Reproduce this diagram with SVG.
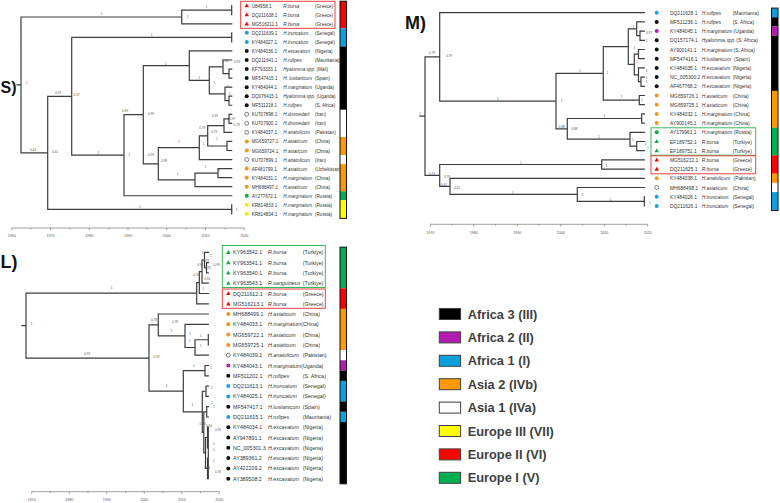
<svg xmlns="http://www.w3.org/2000/svg" xmlns:xlink="http://www.w3.org/1999/xlink" width="780" height="503" viewBox="0 0 780 503">
<style>
.br{fill:none;stroke:#3d3d3d;stroke-width:1.2;stroke-linecap:square}
.ax{fill:none;stroke:#777;stroke-width:0.7}
.tk{font-family:"Liberation Sans",Arial,sans-serif;font-size:3.6px;fill:#555;text-anchor:middle}
.sp{font-family:"Liberation Sans",Arial,sans-serif;font-size:3.2px;fill:#555;text-anchor:middle;dominant-baseline:central}
.ts,.tm,.tl{font-family:"Liberation Sans",Arial,sans-serif;fill:#333;dominant-baseline:central}
.ts{font-size:4.6px}.tm{font-size:4.9px}.tl{font-size:5.3px}
.i{font-style:italic}
.big{font-family:"Liberation Sans",Arial,sans-serif;font-weight:bold;font-size:18px;fill:#111}
.lg{font-family:"Liberation Sans",Arial,sans-serif;font-weight:bold;font-size:12.8px;fill:#404040}
.sw{stroke:#404040;stroke-width:1}
.cR{fill:#ff0000}.cB{fill:#1ba1e2}.cK{fill:#111}.cO{fill:#f7941d}.cG{fill:#12a54a}.cY{fill:#f5ec00}.cP{fill:#b11fb1}.cW{fill:#fff;stroke:#333;stroke-width:0.6}
.bx{fill:none;stroke-width:1}
.bar{stroke:none}
.bo{fill:none;stroke:#111;stroke-width:1}
</style>
<defs>
<path id="tri" d="M0,-2.3L2.2,1.6H-2.2Z"/>
<circle id="dot" r="2"/>
</defs>
<rect width="780" height="503" fill="#fff"/>

<text class="big" x="0.5" y="93" style="font-size:16px">S)</text>
<text class="big" x="405" y="29">M)</text>
<text class="big" x="0.5" y="268">L)</text>

<g id="connectors">
<path class="br" d="M17,84.9H21 M21,17V152.8 M21,17H181.7 M21,152.8H47.7 M181.7,10.2V23.8 M181.7,10.2H231.7 M181.7,23.8H231.7 M231.7,5.7V14.75 M47.7,96.3V209.3 M47.7,96.3H71.7 M47.7,209.3H231.7 M231.7,204.8V213.85 M71.7,37.4V155.2 M71.7,37.4H231.7 M231.7,32.85V41.9 M71.7,155.2H124 M124,114.7V195.75 M124,114.7H143.3 M124,195.75H231.7 M143.3,65.65V163.8 M143.3,65.65H189.3 M143.3,163.8H158.3 M189.3,50.95V80.35 M189.3,50.95H231.7 M189.3,80.35H209.3 M209.3,66.8V93.9 M209.3,66.8H223 M209.3,93.9H225 M223,60V73.6 M223,60H231.7 M223,73.6H229 M229,69.05V78.1 M229,69.05H231.7 M229,78.1H231.7 M225,87.15V100.7 M225,87.15H231.7 M225,100.7H229 M229,96.2V105.25 M229,96.2H231.7 M229,105.25H231.7 M158.3,147.7V179.9 M158.3,147.7H199.3 M158.3,179.9H195 M199.3,135.8V159.55 M199.3,135.8H207.7 M199.3,159.55H231.7 M207.7,125.6V145.98 M207.7,125.6H224 M207.7,145.98H227 M224,118.8V132.4 M224,118.8H229 M224,132.4H231.7 M229,114.3V123.35 M229,114.3H231.7 M229,123.35H231.7 M227,141.45V150.5 M227,141.45H231.7 M227,150.5H231.7 M195,173.1V186.7 M195,173.1H218 M195,186.7H231.7 M218,168.6V177.65 M218,168.6H231.7 M218,177.65H231.7"/>
<path class="br" d="M420,116.15H425 M425,56.9V175.4 M425,56.9H439.7 M425,175.4H439.7 M439.7,12.7V101.1 M439.7,12.7H644.3 M439.7,101.1H556 M556,73.35V128.85 M556,73.35H603.3 M556,128.85H567.3 M603.3,46.6V100.1 M603.3,46.6H628.3 M603.3,100.1H639.3 M639.3,95.5V104.7 M639.3,95.5H644.3 M639.3,104.7H644.3 M628.3,28.8V64.45 M628.3,28.8H636.7 M628.3,64.45H634.3 M636.7,21.9V35.7 M636.7,21.9H644.3 M636.7,35.7H640 M640,31.1V40.3 M640,31.1H644.3 M640,40.3H644.3 M634.3,54.1V74.8 M634.3,54.1H638.5 M634.3,74.8H638.5 M638.5,49.5V58.7 M638.5,49.5H644.3 M638.5,58.7H644.3 M638.5,67.9V81.7 M638.5,67.9H644.3 M638.5,81.7H641 M641,77.1V86.3 M641,77.1H644.3 M641,86.3H644.3 M567.3,118.5V139.2 M567.3,118.5H641.7 M567.3,139.2H630 M641.7,113.9V123.1 M641.7,113.9H644.3 M641.7,123.1H644.3 M630,132.3V146.1 M630,132.3H644.3 M630,146.1H636.7 M636.7,141.5V150.7 M636.7,141.5H644.3 M636.7,150.7H644.3 M439.7,164.5V186.35 M439.7,164.5H601.7 M439.7,186.35H450 M601.7,159.9V169.1 M601.7,159.9H644.3 M601.7,169.1H644.3 M450,178.3V194.4 M450,178.3H644.3 M450,194.4H577.3 M577.3,187.5V201.3 M577.3,187.5H644.3 M577.3,201.3H644.3 M644.3,196.7V205.9"/>
<path class="br" d="M22,325.65H26 M26,293.2V358.1 M26,293.2H196.7 M26,358.1H149 M196.7,282.55V303.8 M196.7,282.55H199.3 M196.7,303.8H208.3 M199.3,271.6V293.5 M199.3,271.6H202 M199.3,293.5H208.3 M202,260V283.2 M202,260H204.5 M202,283.2H208.3 M204.5,252.3V267.75 M204.5,252.3H208.3 M204.5,267.75H206.5 M206.5,262.6V272.9 M206.5,262.6H208.3 M206.5,272.9H208.3 M149,324.95V391.2 M149,324.95H158.3 M149,391.2H183.3 M158.3,314V335.9 M158.3,314H208.3 M158.3,335.9H185 M185,324.3V347.5 M185,324.3H208.3 M185,347.5H195 M195,339.75V355.2 M195,339.75H208.3 M195,355.2H208.3 M208.3,334.6V344.9 M183.3,370.65V411.8 M183.3,370.65H205 M183.3,411.8H202.3 M205,365.5V375.8 M205,365.5H208.3 M205,375.8H208.3 M202.3,391.25V432.4 M202.3,391.25H206 M202.3,432.4H203.8 M206,386.1V396.4 M206,386.1H208.3 M206,396.4H208.3 M203.8,411.85V452.95 M203.8,411.85H206.7 M203.8,452.95H205.5 M206.7,406.7V417 M206.7,406.7H208.3 M206.7,417H208.3 M205.5,437.5V468.4 M205.5,437.5H207.5 M205.5,468.4H207.5 M207.5,427.2V447.8 M207.5,458.1V478.7 M208.3,427.2V478.7"/>
</g>

<g id="support-S">
<text class="sp" x="101.7" y="14">1</text><text class="sp" x="187.7" y="17">1</text><text class="sp" x="206.7" y="7">1</text>
<text class="sp" x="26.7" y="82.5">1</text><text class="sp" x="58.3" y="92.5">0.57</text><text class="sp" x="76.7" y="94.5">0.57</text>
<text class="sp" x="33" y="150">0.41</text><text class="sp" x="55" y="152">0.41</text><text class="sp" x="151.7" y="34.5">1</text>
<text class="sp" x="98.3" y="152.5">1</text><text class="sp" x="125" y="111">0.99</text><text class="sp" x="151" y="114">0.99</text>
<text class="sp" x="129.3" y="155">1</text><text class="sp" x="165.7" y="63.5">1</text><text class="sp" x="199.3" y="78">1</text>
<text class="sp" x="214.3" y="82.5">1</text><text class="sp" x="225.3" y="61">0.98</text><text class="sp" x="237.3" y="62.3">0.99</text>
<text class="sp" x="227.7" y="87">1</text><text class="sp" x="230" y="94">1</text><text class="sp" x="151" y="155">0.99</text>
<text class="sp" x="164" y="160.7">0.99</text><text class="sp" x="179" y="141.7">1</text><text class="sp" x="202.3" y="128.3">0.79</text>
<text class="sp" x="214.3" y="131.7">0.79</text><text class="sp" x="203.7" y="144.3">1</text><text class="sp" x="217" y="139">1</text>
<text class="sp" x="215" y="116">0.99</text><text class="sp" x="232.3" y="119">0.97</text><text class="sp" x="236.7" y="125">0.79</text>
<text class="sp" x="177.7" y="174.3">1</text><text class="sp" x="205.7" y="167">1</text><text class="sp" x="219.3" y="170">1</text>
<text class="sp" x="140" y="206.5">1</text><text class="sp" x="236.7" y="209.5">1</text>
</g>
<g id="support-M">
<text class="sp" x="432" y="53">0.79</text><text class="sp" x="449" y="56">0.79</text><text class="sp" x="420" y="114">1</text>
<text class="sp" x="432" y="173.5">0.79</text><text class="sp" x="447" y="177">0.79</text><text class="sp" x="444" y="185">0.41</text>
<text class="sp" x="457" y="188.3">0.41</text><text class="sp" x="498" y="98.5">1</text><text class="sp" x="561.7" y="101">1</text>
<text class="sp" x="580" y="71">1</text><text class="sp" x="607.3" y="72.7">1</text><text class="sp" x="621.7" y="97.3">1</text>
<text class="sp" x="604.3" y="116">1</text><text class="sp" x="599" y="136.7">1</text><text class="sp" x="561.7" y="127">0.88</text>
<text class="sp" x="574.3" y="129">0.88</text><text class="sp" x="633" y="140">1</text><text class="sp" x="646" y="144">1</text>
<text class="sp" x="648" y="148">1</text><text class="sp" x="521" y="162.7">1</text><text class="sp" x="606.7" y="165.7">1</text>
<text class="sp" x="513" y="193.3">1</text><text class="sp" x="582.3" y="195">1</text><text class="sp" x="610.7" y="200">1</text>
<text class="sp" x="650" y="203.3">1</text><text class="sp" x="633.3" y="26.7">1</text><text class="sp" x="649" y="33">0.97</text>
<text class="sp" x="646.7" y="40.7">1</text><text class="sp" x="634.3" y="48.3">1</text><text class="sp" x="637" y="62">1</text>
<text class="sp" x="646.7" y="71">1</text><text class="sp" x="646.7" y="78">1</text><text class="sp" x="646.7" y="81.7">1</text>
<text class="sp" x="642" y="100">1</text>
</g>
<g id="support-L">
<text class="sp" x="111.7" y="288">1</text><text class="sp" x="31.7" y="324">1</text><text class="sp" x="87.3" y="354">0.97</text>
<text class="sp" x="156.7" y="357">0.97</text><text class="sp" x="154" y="319.5">0.78</text><text class="sp" x="175" y="322">0.78</text>
<text class="sp" x="171.7" y="331">1</text><text class="sp" x="190" y="333.5">1</text><text class="sp" x="201" y="335.5">1</text>
<text class="sp" x="190" y="341">1</text><text class="sp" x="201" y="346">1</text><text class="sp" x="194" y="365.5">1</text>
<text class="sp" x="211" y="368">1</text><text class="sp" x="166.7" y="386">1</text><text class="sp" x="192.3" y="405">1</text>
<text class="sp" x="212" y="388">1</text><text class="sp" x="212" y="403">1</text><text class="sp" x="214" y="407">1</text>
<text class="sp" x="202.7" y="424">0.94</text><text class="sp" x="209" y="425.5">0.94</text><text class="sp" x="218" y="430">0.99</text>
<text class="sp" x="205.7" y="442">1</text><text class="sp" x="214" y="444">1</text><text class="sp" x="214" y="450">1</text>
<text class="sp" x="214" y="461">1</text><text class="sp" x="207.3" y="468">0.76</text><text class="sp" x="218" y="472">0.76</text>
<text class="sp" x="202.7" y="253">1</text><text class="sp" x="211" y="256">1</text><text class="sp" x="206" y="261">0.93</text>
<text class="sp" x="200" y="265">0.94</text><text class="sp" x="216.7" y="265">0.99</text><text class="sp" x="208" y="268">0.95</text>
<text class="sp" x="196.7" y="275">0.97</text><text class="sp" x="207.3" y="279">0.90</text><text class="sp" x="203.3" y="289">1</text>
</g>

<g id="axis-S">
<path class="ax" d="M11.7,228H244.3 M11.7,228v2.2 M50.47,228v2.2 M89.23,228v2.2 M128,228v2.2 M166.77,228v2.2 M205.53,228v2.2 M244.3,228v2.2 M31.08,228v1.3 M69.85,228v1.3 M108.62,228v1.3 M147.38,228v1.3 M186.15,228v1.3 M224.92,228v1.3"/>
<text class="tk" x="11.7" y="236.5">1960</text><text class="tk" x="50.47" y="236.5">1970</text><text class="tk" x="89.23" y="236.5">1980</text><text class="tk" x="128" y="236.5">1990</text><text class="tk" x="166.77" y="236.5">2000</text><text class="tk" x="205.53" y="236.5">2010</text><text class="tk" x="244.3" y="236.5">2020</text>
</g>
<g id="axis-M">
<path class="ax" d="M430.3,224.3H647.7 M430.3,224.3v2.2 M473.78,224.3v2.2 M517.26,224.3v2.2 M560.74,224.3v2.2 M604.22,224.3v2.2 M647.7,224.3v2.2 M452.04,224.3v1.3 M495.52,224.3v1.3 M539,224.3v1.3 M582.48,224.3v1.3 M625.96,224.3v1.3"/>
<text class="tk" x="430.3" y="233.5">1970</text><text class="tk" x="473.78" y="233.5">1980</text><text class="tk" x="517.26" y="233.5">1990</text><text class="tk" x="560.74" y="233.5">2000</text><text class="tk" x="604.22" y="233.5">2010</text><text class="tk" x="647.7" y="233.5">2020</text>
</g>
<g id="axis-L">
<path class="ax" d="M31.7,491.7H219.3 M31.7,491.7v2.2 M69.22,491.7v2.2 M106.74,491.7v2.2 M144.26,491.7v2.2 M181.78,491.7v2.2 M219.3,491.7v2.2 M50.46,491.7v1.3 M87.98,491.7v1.3 M125.5,491.7v1.3 M163.02,491.7v1.3 M200.54,491.7v1.3"/>
<text class="tk" x="31.7" y="500.5">1970</text><text class="tk" x="69.22" y="500.5">1980</text><text class="tk" x="106.74" y="500.5">1990</text><text class="tk" x="144.26" y="500.5">2000</text><text class="tk" x="181.78" y="500.5">2010</text><text class="tk" x="219.3" y="500.5">2020</text>
</g>

<!-- S taxa -->
<rect class="bx" x="240.7" y="1.3" width="94.3" height="27" stroke="#e8403f"/>
<g id="s0"><use href="#tri" x="246.7" y="5.7" class="cR"/><text class="ts" y="5.7"><tspan x="251.7">U84958.1</tspan><tspan x="283.3" class="i">R.bursa</tspan><tspan x="315">(Greece)</tspan></text></g>
<g id="s1"><use href="#tri" x="246.7" y="14.75" class="cR"/><text class="ts" y="14.75"><tspan x="251.7">DQ211638.1</tspan><tspan x="283.3" class="i">R.bursa</tspan><tspan x="315">(Greece)</tspan></text></g>
<g id="s2"><use href="#tri" x="246.7" y="23.8" class="cR"/><text class="ts" y="23.8"><tspan x="251.7">MG516211.1</tspan><tspan x="283.3" class="i">R.bursa</tspan><tspan x="315">(Greece)</tspan></text></g>
<g id="s3"><use href="#dot" x="246.7" y="32.85" class="cB"/><text class="ts" y="32.85"><tspan x="251.7">DQ211639.1</tspan><tspan x="283.3" class="i">H.truncatum</tspan><tspan x="315">(Senegal)</tspan></text></g>
<g id="s4"><use href="#dot" x="246.7" y="41.9" class="cB"/><text class="ts" y="41.9"><tspan x="251.7">KY484027.1</tspan><tspan x="283.3" class="i">H.truncatum</tspan><tspan x="315">(Senegal)</tspan></text></g>
<g id="s5"><use href="#dot" x="246.7" y="50.95" class="cK"/><text class="ts" y="50.95"><tspan x="251.7">KY484036.1</tspan><tspan x="283.3" class="i">H.excavatum</tspan><tspan x="315">(Nigeria)</tspan></text></g>
<g id="s6"><use href="#dot" x="246.7" y="60" class="cK"/><text class="ts" y="60"><tspan x="251.7">DQ211641.1</tspan><tspan x="283.3" class="i">H.rufipes</tspan><tspan x="315">(Mauritania)</tspan></text></g>
<g id="s7"><use href="#dot" x="246.7" y="69.05" class="cK"/><text class="ts" y="69.05"><tspan x="251.7">KF793333.1</tspan><tspan x="283.3" class="i">Hyalomma spp.</tspan><tspan x="316.5">(Mali)</tspan></text></g>
<g id="s8"><use href="#dot" x="246.7" y="78.1" class="cK"/><text class="ts" y="78.1"><tspan x="251.7">MF547415.1</tspan><tspan x="283.3" class="i">H. lusitanicum</tspan><tspan x="315">(Spain)</tspan></text></g>
<g id="s9"><use href="#dot" x="246.7" y="87.15" class="cK"/><text class="ts" y="87.15"><tspan x="251.7">KY484044.1</tspan><tspan x="283.3" class="i">H.marginatum</tspan><tspan x="315">(Uganda)</tspan></text></g>
<g id="s10"><use href="#dot" x="246.7" y="96.2" class="cK"/><text class="ts" y="96.2"><tspan x="251.7">DQ076415.1</tspan><tspan x="283.3" class="i">Hyalomma spp.</tspan><tspan x="316.5">(Uganda)</tspan></text></g>
<g id="s11"><use href="#dot" x="246.7" y="105.25" class="cK"/><text class="ts" y="105.25"><tspan x="251.7">MF511218.1</tspan><tspan x="283.3" class="i">H.rufipes</tspan><tspan x="315">(S. Africa)</tspan></text></g>
<g id="s12"><use href="#dot" x="246.7" y="114.3" class="cW"/><text class="ts" y="114.3"><tspan x="251.7">KU707898.1</tspan><tspan x="283.3" class="i">H.dromedarii</tspan><tspan x="315">(Iran)</tspan></text></g>
<g id="s13"><use href="#dot" x="246.7" y="123.35" class="cW"/><text class="ts" y="123.35"><tspan x="251.7">KU707900.1</tspan><tspan x="283.3" class="i">H.dromedarii</tspan><tspan x="315">(Iran)</tspan></text></g>
<g id="s14"><use href="#dot" x="246.7" y="132.4" class="cW"/><text class="ts" y="132.4"><tspan x="251.7">KY484037.1</tspan><tspan x="283.3" class="i">H.anatolicum</tspan><tspan x="315">(Pakistan)</tspan></text></g>
<g id="s15"><use href="#dot" x="246.7" y="141.45" class="cO"/><text class="ts" y="141.45"><tspan x="251.7">MG659727.1</tspan><tspan x="283.3" class="i">H.asiaticum</tspan><tspan x="315">(China)</tspan></text></g>
<g id="s16"><use href="#dot" x="246.7" y="150.5" class="cO"/><text class="ts" y="150.5"><tspan x="251.7">MG659724.1</tspan><tspan x="283.3" class="i">H.asiaticum</tspan><tspan x="315">(China)</tspan></text></g>
<g id="s17"><use href="#dot" x="246.7" y="159.55" class="cW"/><text class="ts" y="159.55"><tspan x="251.7">KU707899.1</tspan><tspan x="283.3" class="i">H.anatolicum</tspan><tspan x="315">(Iran)</tspan></text></g>
<g id="s18"><use href="#dot" x="246.7" y="168.6" class="cO"/><text class="ts" y="168.6"><tspan x="251.7">AF481799.1</tspan><tspan x="283.3" class="i">H.asiaticum</tspan><tspan x="315">(Uzbekistan)</tspan></text></g>
<g id="s19"><use href="#dot" x="246.7" y="177.65" class="cO"/><text class="ts" y="177.65"><tspan x="251.7">KY484031.1</tspan><tspan x="283.3" class="i">H.marginatum</tspan><tspan x="315">(China)</tspan></text></g>
<g id="s20"><use href="#dot" x="246.7" y="186.7" class="cO"/><text class="ts" y="186.7"><tspan x="251.7">MH688497.1</tspan><tspan x="283.3" class="i">H.asiaticum</tspan><tspan x="315">(China)</tspan></text></g>
<g id="s21"><use href="#dot" x="246.7" y="195.75" class="cG"/><text class="ts" y="195.75"><tspan x="251.7">AY277672.1</tspan><tspan x="283.3" class="i">H.marginatum</tspan><tspan x="315">(Russia)</tspan></text></g>
<g id="s22"><use href="#dot" x="246.7" y="204.8" class="cY"/><text class="ts" y="204.8"><tspan x="251.7">KR814833.1</tspan><tspan x="283.3" class="i">H.marginatum</tspan><tspan x="315">(Russia)</tspan></text></g>
<g id="s23"><use href="#dot" x="246.7" y="213.85" class="cY"/><text class="ts" y="213.85"><tspan x="251.7">KR814834.1</tspan><tspan x="283.3" class="i">H.marginatum</tspan><tspan x="315">(Russia)</tspan></text></g>
<g id="bar-S">
<rect class="bar" x="340" y="1.2" width="6.5" height="27.15" fill="#ff0000"/>
<rect class="bar" x="340" y="28.35" width="6.5" height="18.1" fill="#0aa0dc"/>
<rect class="bar" x="340" y="46.45" width="6.5" height="63.35" fill="#000"/>
<rect class="bar" x="340" y="109.8" width="6.5" height="27.15" fill="#fff"/>
<rect class="bar" x="340" y="136.95" width="6.5" height="18.1" fill="#ff9900"/>
<rect class="bar" x="340" y="155.05" width="6.5" height="9.05" fill="#fff"/>
<rect class="bar" x="340" y="164.1" width="6.5" height="27.15" fill="#ff9900"/>
<rect class="bar" x="340" y="191.25" width="6.5" height="9.05" fill="#00b050"/>
<rect class="bar" x="340" y="200.3" width="6.5" height="18.1" fill="#ffff00"/>
<rect class="bo" x="340" y="1.2" width="6.5" height="217.2"/>
</g>

<!-- M taxa -->
<rect class="bx" x="651" y="127.8" width="104.7" height="27.4" stroke="#3cb85c"/>
<rect class="bx" x="651" y="155.8" width="104.7" height="18" stroke="#e8403f"/>
<g id="m0"><use href="#dot" x="656.7" y="12.7" class="cB"/><text class="tm" y="12.7"><tspan x="670">DQ211628.1</tspan><tspan x="701.7" class="i">H.rufipes</tspan><tspan x="732.7">(Mauritania)</tspan></text></g>
<g id="m1"><use href="#dot" x="656.7" y="21.9" class="cK"/><text class="tm" y="21.9"><tspan x="670">MF511236.1</tspan><tspan x="701.7" class="i">H.rufipes</tspan><tspan x="732.7">(S. Africa)</tspan></text></g>
<g id="m2"><use href="#dot" x="656.7" y="31.1" class="cP"/><text class="tm" y="31.1"><tspan x="670">KY484045.1</tspan><tspan x="701.7" class="i">H.marginatum</tspan><tspan x="733.5">(Uganda)</tspan></text></g>
<g id="m3"><use href="#dot" x="656.7" y="40.3" class="cK"/><text class="tm" y="40.3"><tspan x="670">DQ157174.1</tspan><tspan x="701.7" class="i">Hyalomma spp.</tspan><tspan x="736.3">(S. Africa)</tspan></text></g>
<g id="m4"><use href="#dot" x="656.7" y="49.5" class="cK"/><text class="tm" y="49.5"><tspan x="670">AY900141.1</tspan><tspan x="701.7" class="i">H.marginatum</tspan><tspan x="733.5">(S. Africa)</tspan></text></g>
<g id="m5"><use href="#dot" x="656.7" y="58.7" class="cK"/><text class="tm" y="58.7"><tspan x="670">MF547416.1</tspan><tspan x="701.7" class="i">H.lusitanicum</tspan><tspan x="734">(Spain)</tspan></text></g>
<g id="m6"><use href="#dot" x="656.7" y="67.9" class="cK"/><text class="tm" y="67.9"><tspan x="670">KY484035.1</tspan><tspan x="701.7" class="i">H.excavatum</tspan><tspan x="732.7">(Nigeria)</tspan></text></g>
<g id="m7"><use href="#dot" x="656.7" y="77.1" class="cK"/><text class="tm" y="77.1"><tspan x="670">NC_005300.2</tspan><tspan x="701.7" class="i">H.excavatum</tspan><tspan x="732.7">(Nigeria)</tspan></text></g>
<g id="m8"><use href="#dot" x="656.7" y="86.3" class="cK"/><text class="tm" y="86.3"><tspan x="670">AF467768.2</tspan><tspan x="701.7" class="i">H.excavatum</tspan><tspan x="732.7">(Nigeria)</tspan></text></g>
<g id="m9"><use href="#dot" x="656.7" y="95.5" class="cO"/><text class="tm" y="95.5"><tspan x="670">MG659726.1</tspan><tspan x="701.7" class="i">H.asiaticum</tspan><tspan x="732.7">(China)</tspan></text></g>
<g id="m10"><use href="#dot" x="656.7" y="104.7" class="cO"/><text class="tm" y="104.7"><tspan x="670">MG659725.1</tspan><tspan x="701.7" class="i">H.asiaticum</tspan><tspan x="732.7">(China)</tspan></text></g>
<g id="m11"><use href="#dot" x="656.7" y="113.9" class="cO"/><text class="tm" y="113.9"><tspan x="670">KY484032.1</tspan><tspan x="701.7" class="i">H.marginatum</tspan><tspan x="733.5">(China)</tspan></text></g>
<g id="m12"><use href="#dot" x="656.7" y="123.1" class="cO"/><text class="tm" y="123.1"><tspan x="670">AY900145.1</tspan><tspan x="701.7" class="i">H.marginatum</tspan><tspan x="733.5">(China)</tspan></text></g>
<g id="m13"><use href="#dot" x="656.7" y="132.3" class="cG"/><text class="tm" y="132.3"><tspan x="670">AY179961.1</tspan><tspan x="701.7" class="i">H.marginatum</tspan><tspan x="733.5">(Russia)</tspan></text></g>
<g id="m14"><use href="#tri" x="656.7" y="141.5" class="cG"/><text class="tm" y="141.5"><tspan x="670">EF189752.1</tspan><tspan x="701.7" class="i">R.bursa</tspan><tspan x="732.7">(Turkiye)</tspan></text></g>
<g id="m15"><use href="#tri" x="656.7" y="150.7" class="cG"/><text class="tm" y="150.7"><tspan x="670">EF189751.1</tspan><tspan x="701.7" class="i">R.bursa</tspan><tspan x="732.7">(Turkiye)</tspan></text></g>
<g id="m16"><use href="#tri" x="656.7" y="159.9" class="cR"/><text class="tm" y="159.9"><tspan x="670">MG516212.1</tspan><tspan x="701.7" class="i">R.bursa</tspan><tspan x="732.7">(Greece)</tspan></text></g>
<g id="m17"><use href="#tri" x="656.7" y="169.1" class="cR"/><text class="tm" y="169.1"><tspan x="670">DQ211625.1</tspan><tspan x="701.7" class="i">R.bursa</tspan><tspan x="732.7">(Greece)</tspan></text></g>
<g id="m18"><use href="#dot" x="656.7" y="178.3" class="cO"/><text class="tm" y="178.3"><tspan x="670">KY484038.1</tspan><tspan x="701.7" class="i">H.anatolicum</tspan><tspan x="733.5">(Pakistan)</tspan></text></g>
<g id="m19"><use href="#dot" x="656.7" y="187.5" class="cW"/><text class="tm" y="187.5"><tspan x="670">MH688498.1</tspan><tspan x="701.7" class="i">H.asiaticum</tspan><tspan x="732.7">(China)</tspan></text></g>
<g id="m20"><use href="#dot" x="656.7" y="196.7" class="cB"/><text class="tm" y="196.7"><tspan x="670">KY484026.1</tspan><tspan x="701.7" class="i">H.truncatum</tspan><tspan x="732.7">(Senegal)</tspan></text></g>
<g id="m21"><use href="#dot" x="656.7" y="205.9" class="cB"/><text class="tm" y="205.9"><tspan x="670">DQ211626.1</tspan><tspan x="701.7" class="i">H.truncatum</tspan><tspan x="732.7">(Senegal)</tspan></text></g>
<g id="bar-M">
<rect class="bar" x="771.5" y="8.1" width="6.5" height="9.2" fill="#0aa0dc"/>
<rect class="bar" x="771.5" y="17.3" width="6.5" height="9.2" fill="#000"/>
<rect class="bar" x="771.5" y="26.5" width="6.5" height="9.2" fill="#b01cb0"/>
<rect class="bar" x="771.5" y="35.7" width="6.5" height="55.2" fill="#000"/>
<rect class="bar" x="771.5" y="90.9" width="6.5" height="36.8" fill="#ff9900"/>
<rect class="bar" x="771.5" y="127.7" width="6.5" height="27.6" fill="#00b050"/>
<rect class="bar" x="771.5" y="155.3" width="6.5" height="18.4" fill="#ff0000"/>
<rect class="bar" x="771.5" y="173.7" width="6.5" height="9.2" fill="#ff9900"/>
<rect class="bar" x="771.5" y="182.9" width="6.5" height="9.2" fill="#fff"/>
<rect class="bar" x="771.5" y="192.1" width="6.5" height="18.4" fill="#0aa0dc"/>
<rect class="bo" x="771.5" y="8.1" width="6.5" height="202.4"/>
</g>

<!-- L taxa -->
<rect class="bx" x="222.3" y="245.5" width="103" height="42" stroke="#3cb85c"/>
<rect class="bx" x="222.3" y="289" width="103" height="19.3" stroke="#e8403f"/>
<g id="l0"><use href="#tri" x="228.3" y="252.3" class="cG"/><text class="tl" y="252.3"><tspan x="233">KY963542.1</tspan><tspan x="268" class="i">R.bursa</tspan><tspan x="302.7">(Turkiye)</tspan></text></g>
<g id="l1"><use href="#tri" x="228.3" y="262.6" class="cG"/><text class="tl" y="262.6"><tspan x="233">KY963541.1</tspan><tspan x="268" class="i">R.bursa</tspan><tspan x="302.7">(Turkiye)</tspan></text></g>
<g id="l2"><use href="#tri" x="228.3" y="272.9" class="cG"/><text class="tl" y="272.9"><tspan x="233">KY963540.1</tspan><tspan x="268" class="i">R.bursa</tspan><tspan x="302.7">(Turkiye)</tspan></text></g>
<g id="l3"><use href="#tri" x="228.3" y="283.2" class="cG"/><text class="tl" y="283.2"><tspan x="233">KY963543.1</tspan><tspan x="268" class="i">R.sanguineus</tspan><tspan x="302.7">(Turkiye)</tspan></text></g>
<g id="l4"><use href="#tri" x="228.3" y="293.5" class="cR"/><text class="tl" y="293.5"><tspan x="233">DQ211612.1</tspan><tspan x="268" class="i">R.bursa</tspan><tspan x="302.7">(Greece)</tspan></text></g>
<g id="l5"><use href="#tri" x="228.3" y="303.8" class="cR"/><text class="tl" y="303.8"><tspan x="233">MG516213.1</tspan><tspan x="268" class="i">R.bursa</tspan><tspan x="302.7">(Greece)</tspan></text></g>
<g id="l6"><use href="#dot" x="228.3" y="314" class="cO"/><text class="tl" y="314"><tspan x="233">MH688499.1</tspan><tspan x="268" class="i">H.asiaticum</tspan><tspan x="302.7">(China)</tspan></text></g>
<g id="l7"><use href="#dot" x="228.3" y="324.3" class="cO"/><text class="tl" y="324.3"><tspan x="233">KY484033.1</tspan><tspan x="268" class="i">H.marginatum</tspan><tspan>(China)</tspan></text></g>
<g id="l8"><use href="#dot" x="228.3" y="334.6" class="cO"/><text class="tl" y="334.6"><tspan x="233">MG659722.1</tspan><tspan x="268" class="i">H.asiaticum</tspan><tspan x="302.7">(China)</tspan></text></g>
<g id="l9"><use href="#dot" x="228.3" y="344.9" class="cO"/><text class="tl" y="344.9"><tspan x="233">MG659725.1</tspan><tspan x="268" class="i">H.asiaticum</tspan><tspan x="302.7">(China)</tspan></text></g>
<g id="l10"><use href="#dot" x="228.3" y="355.2" class="cW"/><text class="tl" y="355.2"><tspan x="233">KY484039.1</tspan><tspan x="268" class="i">H.anatolicum</tspan><tspan x="302.7">(Pakistan)</tspan></text></g>
<g id="l11"><use href="#dot" x="228.3" y="365.5" class="cP"/><text class="tl" y="365.5"><tspan x="233">KY484043.1</tspan><tspan x="268" class="i">H.marginatum</tspan><tspan>(Uganda)</tspan></text></g>
<g id="l12"><use href="#dot" x="228.3" y="375.8" class="cK"/><text class="tl" y="375.8"><tspan x="233">MF511202.1</tspan><tspan x="268" class="i">H.rufipes</tspan><tspan x="302.7">(S. Africa)</tspan></text></g>
<g id="l13"><use href="#dot" x="228.3" y="386.1" class="cB"/><text class="tl" y="386.1"><tspan x="233">DQ211613.1</tspan><tspan x="268" class="i">H.truncatum</tspan><tspan x="302.7">(Senegal)</tspan></text></g>
<g id="l14"><use href="#dot" x="228.3" y="396.4" class="cB"/><text class="tl" y="396.4"><tspan x="233">KY484025.1</tspan><tspan x="268" class="i">H.truncatum</tspan><tspan x="302.7">(Senegal)</tspan></text></g>
<g id="l15"><use href="#dot" x="228.3" y="406.7" class="cK"/><text class="tl" y="406.7"><tspan x="233">MF547417.1</tspan><tspan x="268" class="i">H.lusitanicum</tspan><tspan x="302.7">(Spain)</tspan></text></g>
<g id="l16"><use href="#dot" x="228.3" y="417" class="cB"/><text class="tl" y="417"><tspan x="233">DQ211615.1</tspan><tspan x="268" class="i">H.rufipes</tspan><tspan x="302.7">(Mauritania)</tspan></text></g>
<g id="l17"><use href="#dot" x="228.3" y="427.2" class="cK"/><text class="tl" y="427.2"><tspan x="233">KY484034.1</tspan><tspan x="268" class="i">H.excavatum</tspan><tspan x="302.7">(Nigeria)</tspan></text></g>
<g id="l18"><use href="#dot" x="228.3" y="437.5" class="cK"/><text class="tl" y="437.5"><tspan x="233">AY947891.1</tspan><tspan x="268" class="i">H.excavatum</tspan><tspan x="302.7">(Nigeria)</tspan></text></g>
<g id="l19"><use href="#dot" x="228.3" y="447.8" class="cK"/><text class="tl" y="447.8"><tspan x="233">NC_005301.3</tspan><tspan x="268" class="i">H.excavatum</tspan><tspan x="302.7">(Nigeria)</tspan></text></g>
<g id="l20"><use href="#dot" x="228.3" y="458.1" class="cK"/><text class="tl" y="458.1"><tspan x="233">AY389361.2</tspan><tspan x="268" class="i">H.excavatum</tspan><tspan x="302.7">(Nigeria)</tspan></text></g>
<g id="l21"><use href="#dot" x="228.3" y="468.4" class="cK"/><text class="tl" y="468.4"><tspan x="233">AY422209.2</tspan><tspan x="268" class="i">H.excavatum</tspan><tspan x="302.7">(Nigeria)</tspan></text></g>
<g id="l22"><use href="#dot" x="228.3" y="478.7" class="cK"/><text class="tl" y="478.7"><tspan x="233">AY389508.2</tspan><tspan x="268" class="i">H.excavatum</tspan><tspan x="302.7">(Nigeria)</tspan></text></g>
<g id="bar-L">
<rect class="bar" x="340" y="247.15" width="6.5" height="41.15" fill="#00b050"/>
<rect class="bar" x="340" y="288.3" width="6.5" height="20.6" fill="#ff0000"/>
<rect class="bar" x="340" y="308.9" width="6.5" height="41.1" fill="#ff9900"/>
<rect class="bar" x="340" y="350" width="6.5" height="10.3" fill="#fff"/>
<rect class="bar" x="340" y="360.3" width="6.5" height="10.3" fill="#b01cb0"/>
<rect class="bar" x="340" y="370.6" width="6.5" height="10.3" fill="#000"/>
<rect class="bar" x="340" y="380.9" width="6.5" height="20.6" fill="#0aa0dc"/>
<rect class="bar" x="340" y="401.5" width="6.5" height="10.3" fill="#000"/>
<rect class="bar" x="340" y="411.8" width="6.5" height="10.3" fill="#0aa0dc"/>
<rect class="bar" x="340" y="422.1" width="6.5" height="61.7" fill="#000"/>
<rect class="bo" x="340" y="247.15" width="6.5" height="236.65"/>
</g>

<!-- Legend -->
<g id="legend">
<g id="lg-africa3"><rect class="sw" x="439.3" y="308.5" width="21.3" height="11" fill="#000"/><text class="lg" x="467.7" y="318.6">Africa 3 (III)</text></g>
<g id="lg-africa2"><rect class="sw" x="439.3" y="331.9" width="21.3" height="11" fill="#b01cb0"/><text class="lg" x="467.7" y="342">Africa 2 (II)</text></g>
<g id="lg-africa1"><rect class="sw" x="439.3" y="355.3" width="21.3" height="11" fill="#0aa0dc"/><text class="lg" x="467.7" y="365.4">Africa 1 (I)</text></g>
<g id="lg-asia2"><rect class="sw" x="439.3" y="378.7" width="21.3" height="11" fill="#ff9900"/><text class="lg" x="467.7" y="388.8">Asia 2 (IVb)</text></g>
<g id="lg-asia1"><rect class="sw" x="439.3" y="402.1" width="21.3" height="11" fill="#fff"/><text class="lg" x="467.7" y="412.2">Asia 1 (IVa)</text></g>
<g id="lg-europe3"><rect class="sw" x="439.3" y="425.5" width="21.3" height="11" fill="#ffff00"/><text class="lg" x="467.7" y="435.6">Europe III (VII)</text></g>
<g id="lg-europe2"><rect class="sw" x="439.3" y="448.9" width="21.3" height="11" fill="#ff0000"/><text class="lg" x="467.7" y="459">Europe II (VI)</text></g>
<g id="lg-europe1"><rect class="sw" x="439.3" y="472.3" width="21.3" height="11" fill="#00b050"/><text class="lg" x="467.7" y="482.4">Europe I (V)</text></g>
</g>
</svg>
